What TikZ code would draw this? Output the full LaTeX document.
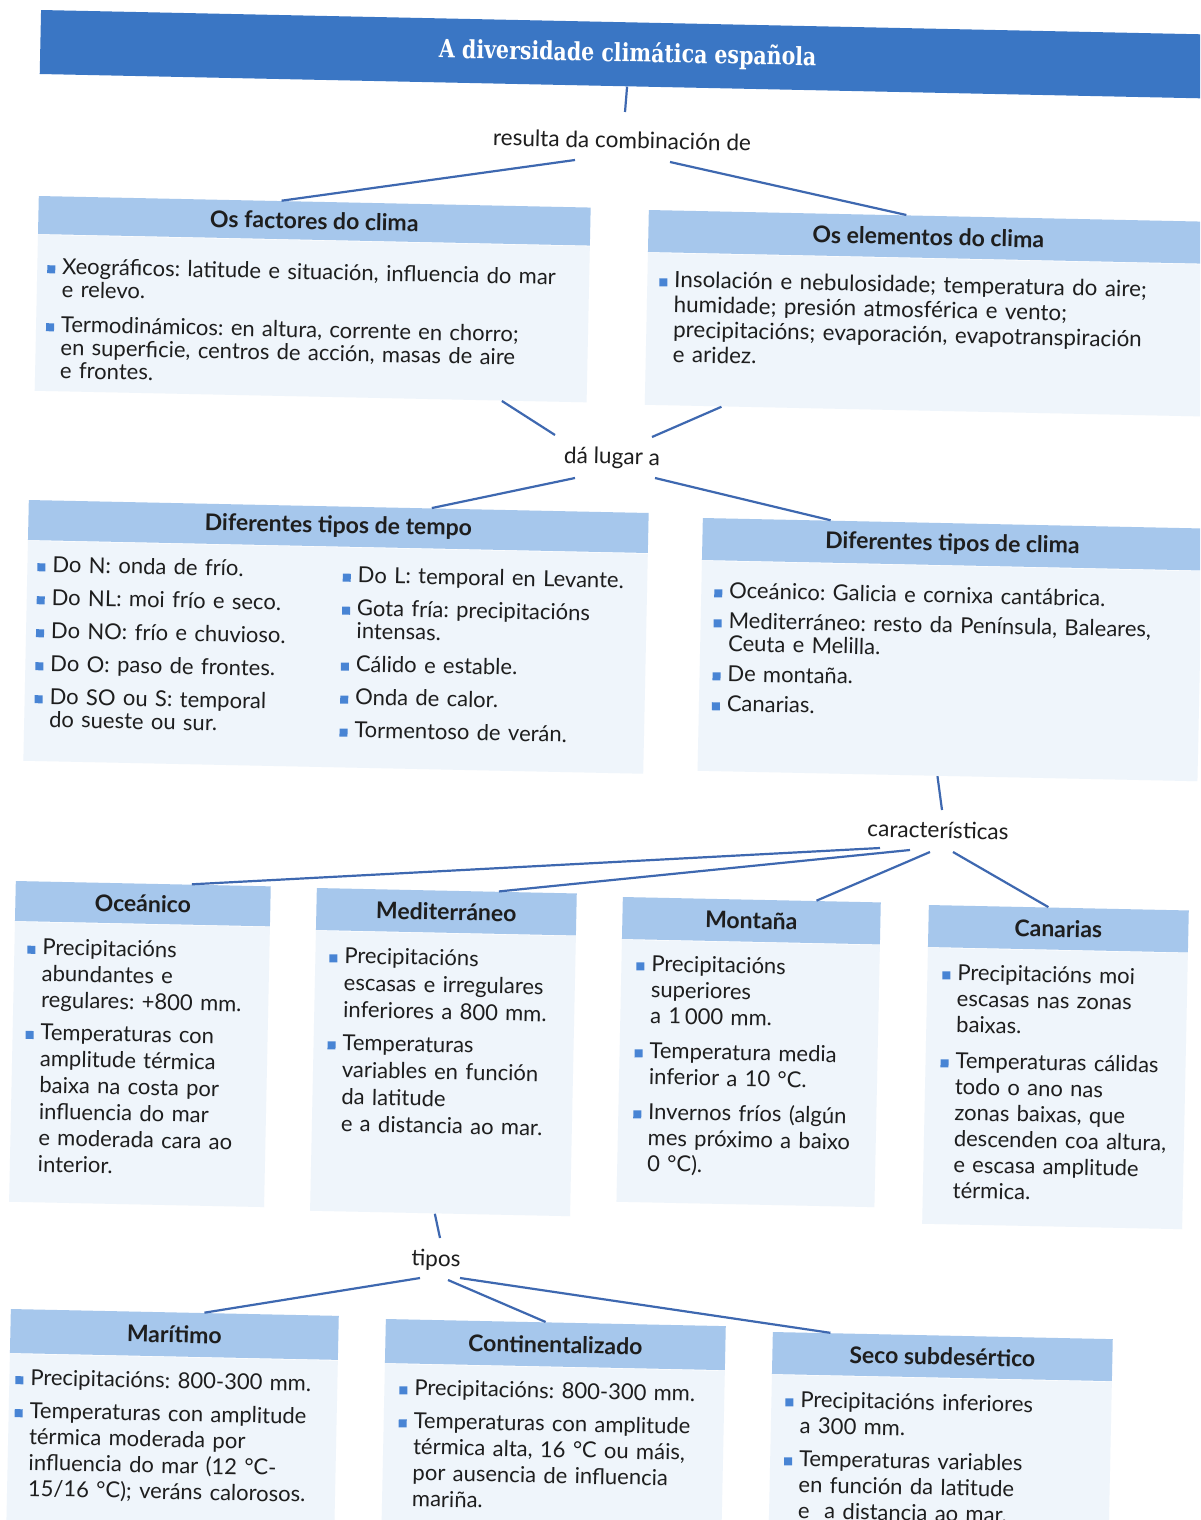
\documentclass[tikz,border=0pt]{standalone}
\usepackage{fontspec}
\setmainfont{Lato}
\newfontfamily\titlefont[FakeStretch=0.82]{DejaVu Serif}
\usetikzlibrary{calc}
\definecolor{titleblue}{RGB}{58,118,196}
\definecolor{hdrblue}{RGB}{166,199,236}
\definecolor{bodyblue}{RGB}{239,245,251}
\definecolor{linec}{RGB}{62,104,176}
\definecolor{bulc}{RGB}{72,132,212}
\definecolor{txt}{RGB}{30,30,30}
\newlength{\itemgap}\setlength{\itemgap}{4pt}
\newcommand{\bi}[1]{\par\hangindent=7.5pt\hangafter=1\noindent\makebox[7.5pt][l]{\textcolor{bulc}{\rule[0.4pt]{4pt}{4pt}}}#1\par}
\newcommand{\bg}[1]{\vspace{\itemgap}\bi{#1}}
\newcommand{\nl}{\newline}
\newcommand{\lowfont}{\fontsize{11}{13}\selectfont}
\tikzset{
  titlebar/.style={fill=titleblue, text=white, anchor=west, rotate=-1.2, inner sep=0pt,
    minimum width=587.5pt, minimum height=32pt, font=\titlefont\bfseries\fontsize{12.5}{14}\selectfont},
  hdr/.style={fill=hdrblue, text=txt, anchor=west, rotate=-1.2, inner sep=0pt, font=\bfseries\fontsize{11.5}{13}\selectfont},
  bodybg/.style={fill=bodyblue, anchor=north west, rotate=-1.2, inner sep=0pt},
  bodytxt/.style={text=txt, anchor=north west, rotate=-1.2, inner xsep=6pt, inner ysep=9pt, align=left},
  lab/.style={text=txt, rotate=-1.2, inner sep=0pt, font=\fontsize{11.3}{13}\selectfont},
  conn/.style={draw=linec, line width=1.1pt}
}
\begin{document}
\frenchspacing
\begin{tikzpicture}[x=0.5pt,y=-0.5pt]
\useasboundingbox (0,0) rectangle (1200,1520);
\clip (0,0) rectangle (1200,1520);
\fill[white] (0,0) rectangle (1200,1520);

% title
\node[titlebar] (title) at (40,42) {A diversidade climática española};
\node[lab] (res) at (622,140) {resulta da combinación de};

% factores
\node[hdr, minimum width=276pt, minimum height=19pt] (fac) at (38,215) {Os factores do clima};
\node[bodybg, minimum width=276pt, minimum height=78pt] (facb) at (fac.south west) {};
\node[bodytxt, inner xsep=5pt, inner ysep=8pt, text width=268pt, font=\fontsize{11}{11.5}\selectfont\setlength{\itemgap}{6pt}] (facT) at (facb.north west)
 {\bi{Xeográficos: latitude e situación, influencia do mar\nl e relevo.}
  \bg{Termodinámicos: en altura, corrente en chorro;\nl en superficie, centros de acción, masas de aire\nl e frontes.}};

% elementos
\node[hdr, minimum width=280pt, minimum height=21pt] (ele) at (648,231) {Os elementos do clima};
\node[bodybg, minimum width=280pt, minimum height=76pt] (eleb) at (ele.south west) {};
\node[bodytxt, inner ysep=4.5pt, text width=270pt, font=\fontsize{11.2}{12.5}\selectfont] (eleT) at (eleb.north west)
 {\bi{Insolación e nebulosidade; temperatura do aire;\nl humidade; presión atmosférica e vento;\nl precipitacións; evaporación, evapotranspiración\nl e aridez.}};

\node[lab] (dal) at (612,458) {dá lugar a};

% tempo
\node[hdr, minimum width=310pt, minimum height=20pt] (tem) at (28,520) {Diferentes tipos de tempo};
\node[bodybg, minimum width=310pt, minimum height=110pt] (temb) at (tem.south west) {};
\node[bodytxt, inner xsep=5pt, inner ysep=4pt, text width=145pt, font=\fontsize{11}{11.5}\selectfont\setlength{\itemgap}{5pt}] (temT1) at (temb.north west)
 {\bi{Do N: onda de frío.}
  \bg{Do NL: moi frío e seco.}
  \bg{Do NO: frío e chuvioso.}
  \bg{Do O: paso de frontes.}
  \bg{Do SO ou S: temporal\nl do sueste ou sur.}};
\node[bodytxt, inner xsep=5pt, inner ysep=4pt, text width=150pt, font=\fontsize{11}{11.5}\selectfont\setlength{\itemgap}{5pt}] (temT2) at ($(temb.north west)!0.492!(temb.north east)+(0,4)$)
 {\bi{Do L: temporal en Levante.}
  \bg{Gota fría: precipitacións\nl intensas.}
  \bg{Cálido e estable.}
  \bg{Onda de calor.}
  \bg{Tormentoso de verán.}};

% clima
\node[hdr, minimum width=250pt, minimum height=21pt] (cli) at (702,539) {Diferentes tipos de clima};
\node[bodybg, minimum width=250pt, minimum height=105pt] (clib) at (cli.south west) {};
\node[bodytxt, inner xsep=6.5pt, inner ysep=7pt, text width=238pt, font=\fontsize{11}{11.5}\selectfont\setlength{\itemgap}{3.5pt}] (cliT) at (clib.north west)
 {\bi{Oceánico: Galicia e cornixa cantábrica.}
  \bg{Mediterráneo: resto da Península, Baleares,\nl Ceuta e Melilla.}
  \bg{De montaña.}
  \bg{Canarias.}};

\node[lab] (car) at (938,830) {características};

% four climates
\node[hdr, minimum width=127.5pt, minimum height=20pt] (oce) at (15,901) {Oceánico};
\node[bodybg, minimum width=127.5pt, minimum height=140pt] (oceb) at (oce.south west) {};
\node[bodytxt, inner xsep=6.5pt, inner ysep=3pt, text width=118pt, font=\fontsize{11}{13.2}\selectfont\setlength{\itemgap}{3pt}] (oceT) at (oceb.north west)
 {\bi{Precipitacións\nl abundantes e\nl regulares: +800 mm.}
  \bg{Temperaturas con\nl amplitude térmica\nl baixa na costa por\nl influencia do mar\nl e moderada cara ao\nl interior.}};

\node[hdr, minimum width=130pt, minimum height=21pt] (med) at (316,909) {Mediterráneo};
\node[bodybg, minimum width=130pt, minimum height=140pt] (medb) at (med.south west) {};
\node[bodytxt, inner xsep=7pt, inner ysep=2.5pt, text width=120pt, font=\fontsize{11}{13.5}\selectfont\setlength{\itemgap}{3pt}] (medT) at (medb.north west)
 {\bi{Precipitacións\nl escasas e irregulares\nl inferiores a 800 mm.}
  \bg{Temperaturas\nl variables en función\nl da latitude\nl e a distancia ao mar.}};

\node[hdr, minimum width=129pt, minimum height=21pt] (mon) at (622,918) {Montaña};
\node[bodybg, minimum width=129pt, minimum height=131pt] (monb) at (mon.south west) {};
\node[bodytxt, inner xsep=7.5pt, inner ysep=2.5pt, text width=118pt, font=\lowfont\setlength{\itemgap}{4.5pt}] (monT) at (monb.north west)
 {\bi{Precipitacións\nl superiores\nl a 1\,000 mm.}
  \bg{Temperatura media\nl inferior a 10 °C.}
  \bg{Invernos fríos (algún\nl mes próximo a baixo\nl 0 °C).}};

\node[hdr, minimum width=130pt, minimum height=21pt] (can) at (928,926) {Canarias};
\node[bodybg, minimum width=130pt, minimum height=138pt] (canb) at (can.south west) {};
\node[bodytxt, inner xsep=7.5pt, inner ysep=3pt, text width=120pt, font=\lowfont\setlength{\itemgap}{5pt}] (canT) at (canb.north west)
 {\bi{Precipitacións moi\nl escasas nas zonas\nl baixas.}
  \bg{Temperaturas cálidas\nl todo o ano nas\nl zonas baixas, que\nl descenden coa altura,\nl e escasa amplitude\nl térmica.}};

\node[lab] (tip) at (436,1260) {tipos};

% bottom row
\node[hdr, minimum width=164pt, minimum height=22pt] (mar) at (10,1331) {Marítimo};
\node[bodybg, minimum width=164pt, minimum height=100pt] (marb) at (mar.south west) {};
\node[bodytxt, inner xsep=3pt, inner ysep=2.5pt, text width=158pt, font=\lowfont\setlength{\itemgap}{3.5pt}] (marT) at (marb.north west)
 {\bi{Precipitacións: 800-300 mm.}
  \bg{Temperaturas con amplitude\nl térmica moderada por\nl influencia do mar (12 °C-\nl 15/16 °C); veráns calorosos.}};

\node[hdr, minimum width=170pt, minimum height=22pt] (con) at (385,1341) {Continentalizado};
\node[bodybg, minimum width=170pt, minimum height=100pt] (conb) at (con.south west) {};
\node[bodytxt, inner xsep=7.5pt, inner ysep=2.5pt, text width=158pt, font=\lowfont\setlength{\itemgap}{3.5pt}] (conT) at (conb.north west)
 {\bi{Precipitacións: 800-300 mm.}
  \bg{Temperaturas con amplitude\nl térmica alta, 16 °C ou máis,\nl por ausencia de influencia\nl mariña.}};

\node[hdr, minimum width=170pt, minimum height=21pt] (sec) at (772,1353) {Seco subdesértico};
\node[bodybg, minimum width=170pt, minimum height=100pt] (secb) at (sec.south west) {};
\node[bodytxt, inner xsep=7pt, inner ysep=3pt, text width=158pt, font=\lowfont\setlength{\itemgap}{3.5pt}] (secT) at (secb.north west)
 {\bi{Precipitacións inferiores\nl a 300 mm.}
  \bg{Temperaturas variables\nl en función da latitude\nl e\ \ a distancia ao mar.}};

% connectors
\draw[conn] (title.south) -- ($(res.center)+(3,-28)$);
\draw[conn] ($(res.center)+(-47,20)$) -- ($(fac.north west)!0.44!(fac.north east)$);
\draw[conn] ($(res.center)+(48,22)$) -- ($(ele.north west)!0.46!(ele.north east)$);
\draw[conn] ($(facb.south west)!0.846!(facb.south east)$) -- ($(dal.center)+(-57,-23)$);
\draw[conn] ($(eleb.south west)!0.1375!(eleb.south east)$) -- ($(dal.center)+(40,-21)$);
\draw[conn] ($(dal.center)+(-37,20)$) -- ($(tem.north west)!0.65!(tem.north east)$);
\draw[conn] ($(dal.center)+(43,20)$) -- ($(cli.north west)!0.256!(cli.north east)$);
\draw[conn] ($(clib.south west)!0.48!(clib.south east)$) -- ($(car.center)+(4,-20)$);
\draw[conn] ($(car.center)+(-58,18)$) -- ($(oce.north west)!0.69!(oce.north east)$);
\draw[conn] ($(car.center)+(-28,20)$) -- ($(med.north west)!0.70!(med.north east)$);
\draw[conn] ($(car.center)+(-8,22)$) -- ($(mon.north west)!0.75!(mon.north east)$);
\draw[conn] ($(car.center)+(15,22)$) -- ($(can.north west)!0.46!(can.north east)$);
\draw[conn] ($(medb.south west)!0.48!(medb.south east)$) -- ($(tip.center)+(4,-22)$);
\draw[conn] ($(tip.center)+(-16,18)$) -- ($(mar.north west)!0.59!(mar.north east)$);
\draw[conn] ($(tip.center)+(12,20)$) -- ($(con.north west)!0.47!(con.north east)$);
\draw[conn] ($(tip.center)+(24,18)$) -- ($(sec.north west)!0.17!(sec.north east)$);
\end{tikzpicture}
\end{document}
